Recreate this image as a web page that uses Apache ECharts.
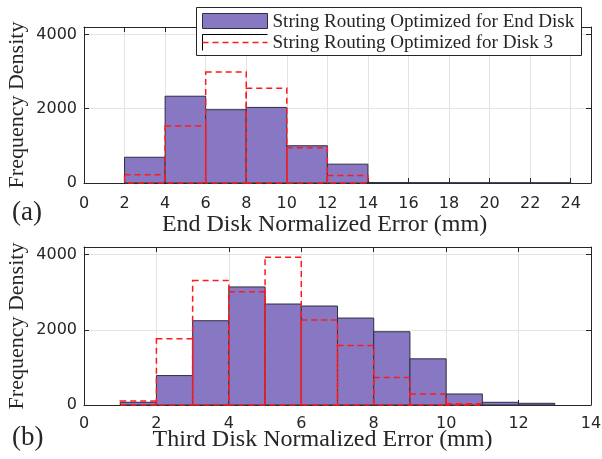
<!DOCTYPE html>
<html>
<head>
<meta charset="utf-8">
<script src="https://cdn.jsdelivr.net/npm/echarts@6/dist/echarts.min.js"></script>
<style>
html,body{margin:0;padding:0;background:#fff;}
#chart{width:602px;height:459px;}
</style>
</head>
<body>
<div id="chart"></div>
<script>
// ---- data ----
const topBlueEdges = [2, 4, 6, 8, 10, 12, 14, 16, 18, 20, 22, 24];
const topBlueValues = [693, 2336, 1973, 2035, 1003, 507, 12, 8, 6, 5, 4];
const topRedEdges = [2, 4, 6, 8, 10, 12, 14];
const topRedValues = [222, 1537, 2987, 2549, 950, 203];

const botBlueEdges = [1, 2, 3, 4, 5, 6, 7, 8, 9, 10, 11, 12, 13];
const botBlueValues = [72, 782, 2240, 3138, 2684, 2631, 2311, 1947, 1227, 293, 72, 45];
const botRedEdges = [1, 2, 3, 4, 5, 6, 7, 8, 9, 10, 11];
const botRedValues = [107, 1760, 3307, 3013, 3929, 2258, 1582, 729, 293, 35];

const legendLabels = ['String Routing Optimized for End Disk', 'String Routing Optimized for Disk 3'];
const xTitles = ['End Disk Normalized Error (mm)', 'Third Disk Normalized Error (mm)'];
const yTitle = 'Frequency Density';
const panelLabels = ['(a)', '(b)'];

// ---- helpers ----
function bins(edges, values) {
  return values.map((v, i) => [edges[i], edges[i + 1], v]);
}
const TXT = '#262626';
const SERIF = 'Liberation Serif';
const SANS = 'DejaVu Sans';
const BLUE = '#8878c4';
const BLUE_EDGE = '#2e2e40';
const RED = '#ff1a1a';

function blueRender(params, api) {
  const p0 = api.coord([api.value(0), api.value(2)]);
  const p1 = api.coord([api.value(1), 0]);
  return {
    type: 'rect',
    shape: { x: p0[0], y: p0[1], width: p1[0] - p0[0], height: p1[1] - p0[1] },
    style: { fill: BLUE, stroke: BLUE_EDGE, lineWidth: 1 }
  };
}
function redRender(params, api) {
  const p0 = api.coord([api.value(0), api.value(2)]);
  const p1 = api.coord([api.value(1), 0]);
  return {
    type: 'rect',
    shape: { x: p0[0], y: p0[1], width: p1[0] - p0[0], height: p1[1] - p0[1] },
    style: { fill: 'none', stroke: RED, lineWidth: 1.5, lineDash: [6, 4] }
  };
}

function mainX(grid, max, title, pad, gap, margin) {
  return {
    type: 'value', gridIndex: grid, min: 0, max: max, interval: 2, position: 'bottom',
    axisLine: { show: true, onZero: false, lineStyle: { color: TXT, width: 1 } },
    axisTick: { show: true, inside: true, length: 5, lineStyle: { color: TXT } },
    axisLabel: { show: true, margin: margin, fontFamily: SANS, fontSize: 16, color: TXT, showMaxLabel: max % 2 === 0, formatter: v => String(v) },
    splitLine: { show: true, lineStyle: { color: '#e3e3e3', width: 1 } },
    name: title, nameLocation: 'middle', nameGap: gap, nameMoveOverlap: false,
    nameTextStyle: { fontFamily: SERIF, fontSize: 24, color: TXT, padding: pad }
  };
}
function boxX(grid, max) {
  return {
    type: 'value', gridIndex: grid, min: 0, max: max, interval: 2, position: 'top',
    axisLine: { show: true, onZero: false, lineStyle: { color: TXT, width: 1 } },
    axisTick: { show: true, inside: true, length: 5, lineStyle: { color: TXT } },
    axisLabel: { show: false }, splitLine: { show: false }
  };
}
function mainY(grid) {
  return {
    type: 'value', gridIndex: grid, min: 0, max: 4200, interval: 2000, position: 'left',
    axisLine: { show: true, onZero: false, lineStyle: { color: TXT, width: 1 } },
    axisTick: { show: true, inside: true, length: 5, lineStyle: { color: TXT } },
    axisLabel: { show: true, margin: 7, fontFamily: SANS, fontSize: 16, color: TXT, showMaxLabel: false, formatter: v => String(v) },
    splitLine: { show: true, lineStyle: { color: '#e3e3e3', width: 1 } },
    name: yTitle, nameLocation: 'middle', nameGap: 56, nameMoveOverlap: false,
    nameTextStyle: { fontFamily: SERIF, fontSize: 22, color: TXT }
  };
}
function boxY(grid) {
  return {
    type: 'value', gridIndex: grid, min: 0, max: 4200, interval: 2000, position: 'right',
    axisLine: { show: true, onZero: false, lineStyle: { color: TXT, width: 1 } },
    axisTick: { show: true, inside: true, length: 5, lineStyle: { color: TXT } },
    axisLabel: { show: false }, splitLine: { show: false }
  };
}

const chart = echarts.init(document.getElementById('chart'), null, { renderer: 'canvas' });
const LZ = 100;
const option = {
  animation: false,
  backgroundColor: '#fff',
  grid: [
    { left: 84, top: 27, width: 507, height: 156, containLabel: false, outerBoundsMode: 'none' },
    { left: 84, top: 247, width: 507, height: 158, containLabel: false, outerBoundsMode: 'none' }
  ],
  xAxis: [
    mainX(0, 25, xTitles[0], [0, 26, 0, 0], 30, 13),
    boxX(0, 25),
    mainX(1, 14, xTitles[1], [0, 30, 0, 0], 23, 11),
    boxX(1, 14)
  ],
  yAxis: [mainY(0), boxY(0), mainY(1), boxY(1)],
  series: [
    { type: 'custom', xAxisIndex: 0, yAxisIndex: 0, renderItem: blueRender, data: bins(topBlueEdges, topBlueValues), encode: { x: [0, 1], y: 2 }, z: 2 },
    { type: 'custom', xAxisIndex: 0, yAxisIndex: 0, renderItem: redRender, data: bins(topRedEdges, topRedValues), encode: { x: [0, 1], y: 2 }, z: 3 },
    { type: 'custom', xAxisIndex: 2, yAxisIndex: 2, renderItem: blueRender, data: bins(botBlueEdges, botBlueValues), encode: { x: [0, 1], y: 2 }, z: 2 },
    { type: 'custom', xAxisIndex: 2, yAxisIndex: 2, renderItem: redRender, data: bins(botRedEdges, botRedValues), encode: { x: [0, 1], y: 2 }, z: 3 }
  ],
  graphic: [
    { type: 'text', x: 12, y: 213, style: { text: panelLabels[0], font: '27px "' + SERIF + '"', fill: TXT, verticalAlign: 'middle' } },
    { type: 'text', x: 12, y: 438, style: { text: panelLabels[1], font: '27px "' + SERIF + '"', fill: TXT, verticalAlign: 'middle' } },
    {
      type: 'group', left: 196, top: 7, z: LZ,
      children: [
        { type: 'rect', z: LZ, shape: { x: 0, y: 0, width: 385, height: 48 }, style: { fill: '#fff', stroke: TXT, lineWidth: 1 } },
        { type: 'rect', z: LZ + 1, shape: { x: 6, y: 6, width: 65, height: 15 }, style: { fill: BLUE, stroke: BLUE_EDGE, lineWidth: 1 } },
        { type: 'polyline', z: LZ + 1, shape: { points: [[6, 43], [6, 27], [71, 27]] }, style: { fill: 'none', stroke: '#000', lineWidth: 1 } },
        { type: 'line', z: LZ + 1, shape: { x1: 6, y1: 35, x2: 71, y2: 35 }, style: { stroke: RED, lineWidth: 1.5, lineDash: [6, 4] } },
        { type: 'text', z: LZ + 1, x: 76, y: 14, style: { text: legendLabels[0], font: '19.1px "' + SERIF + '"', fill: TXT, verticalAlign: 'middle' } },
        { type: 'text', z: LZ + 1, x: 76, y: 35, style: { text: legendLabels[1], font: '19.1px "' + SERIF + '"', fill: TXT, verticalAlign: 'middle' } }
      ]
    }
  ]
};
chart.setOption(option);
</script>
</body>
</html>
